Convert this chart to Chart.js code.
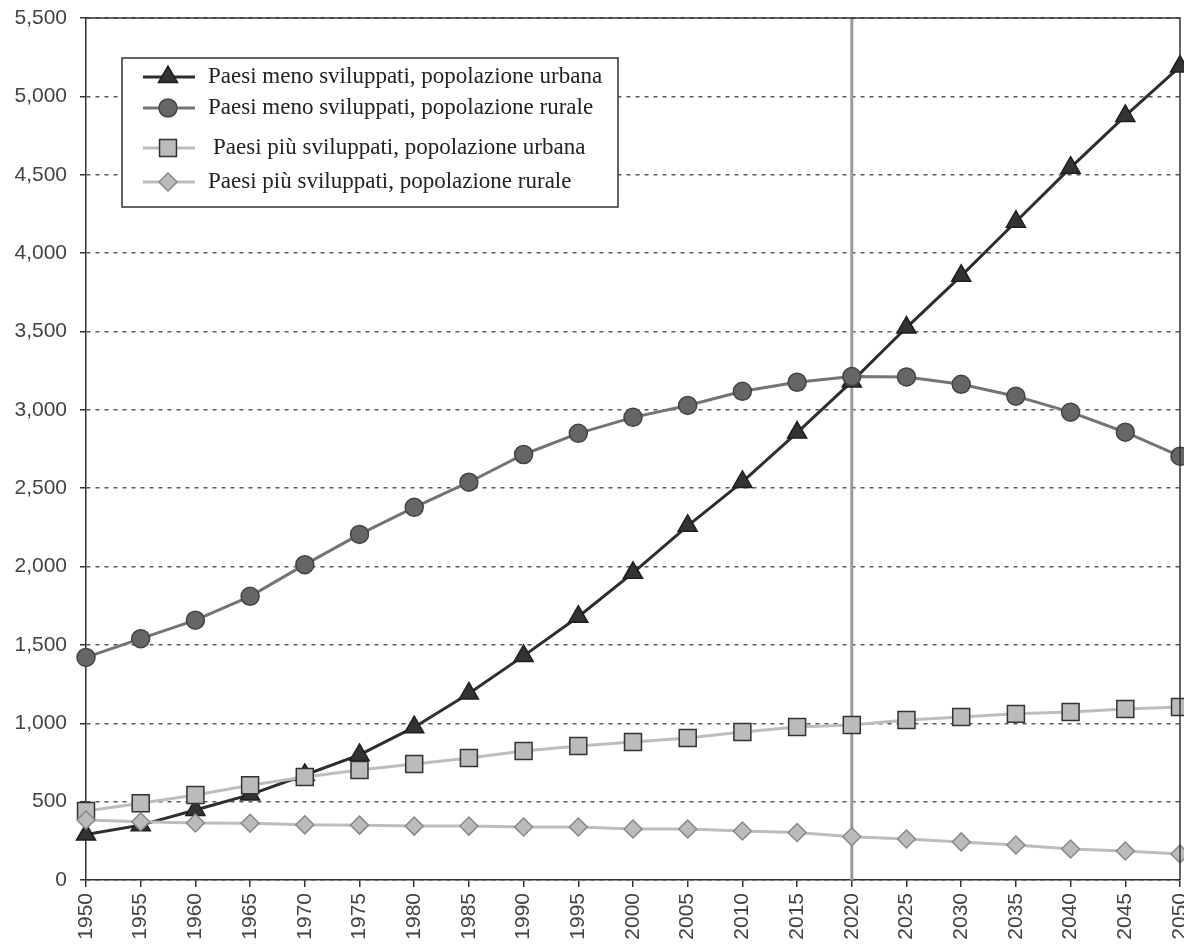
<!DOCTYPE html>
<html>
<head>
<meta charset="utf-8">
<script src="https://cdn.jsdelivr.net/npm/chart.js@4.4.1/dist/chart.umd.min.js"></script>
<style>
  html, body { margin: 0; padding: 0; background: #fff; }
  #wrap { width: 1184px; height: 952px; }
</style>
</head>
<body>
<div id="wrap"><canvas id="chart" width="1184" height="952"></canvas></div>
<script>
const YEARS = ['1950','1955','1960','1965','1970','1975','1980','1985','1990','1995','2000',
               '2005','2010','2015','2020','2025','2030','2035','2040','2045','2050'];

// millions of people
const LESS_URBAN = [290, 350, 447, 545, 670, 798, 975, 1190, 1430, 1680, 1960,
                    2260, 2540, 2855, 3180, 3525, 3855, 4200, 4545, 4875, 5190];
const LESS_RURAL = [1420, 1540, 1658, 1810, 2012, 2205, 2378, 2538, 2715, 2850, 2952,
                    3028, 3118, 3176, 3212, 3210, 3163, 3087, 2985, 2857, 2704];
const MORE_URBAN = [440, 490, 542, 604, 657, 702, 740, 778, 823, 855, 880,
                    906, 944, 976, 989, 1021, 1040, 1060, 1072, 1091, 1104];
const MORE_RURAL = [383, 372, 364, 362, 352, 350, 344, 344, 338, 338, 325,
                    325, 313, 303, 276, 262, 243, 223, 198, 185, 166];

const SERIES_NAMES = [
    'Paesi meno sviluppati, popolazione urbana',
    'Paesi meno sviluppati, popolazione rurale',
    'Paesi più sviluppati, popolazione urbana',
    'Paesi più sviluppati, popolazione rurale',
];

const Y_MIN = 0, Y_MAX = 5500, Y_STEP = 500;
const MARK_YEAR = '2020';

const TICK_FONT = { family: '"Liberation Sans", Arial, sans-serif', size: 21 };

function makeDataset(label, values, line, fill, border, style, radius, order) {
    return {
        label,
        data: values,
        borderColor: line,
        borderWidth: 3,
        pointStyle: style,
        pointRadius: radius,
        pointHoverRadius: radius,
        pointBackgroundColor: fill,
        pointBorderColor: border,
        pointBorderWidth: 1.5,
        tension: 0,
        fill: false,
        clip: false,
        order,
    };
}

const datasets = [
    makeDataset(SERIES_NAMES[0], LESS_URBAN, '#2e2e2e', '#333333', '#1e1e1e', 'triangle', 11, 4),
    makeDataset(SERIES_NAMES[1], LESS_RURAL, '#747474', '#666666', '#444444', 'circle',    9,  3),
    makeDataset(SERIES_NAMES[2], MORE_URBAN, '#bdbdbd', '#bbbbbb', '#333333', 'rect',     12, 2),
    makeDataset(SERIES_NAMES[3], MORE_RURAL, '#bdbdbd', '#bbbbbb', '#888888', 'rectRot',   9, 1),
];

// small marker painter for the boxed legend
function paintMarker(ctx, ds, x, y) {
    const r = ds.pointRadius;
    ctx.save();
    ctx.fillStyle = ds.pointBackgroundColor;
    ctx.strokeStyle = ds.pointBorderColor;
    ctx.lineWidth = ds.pointBorderWidth;
    ctx.beginPath();
    if (ds.pointStyle === 'circle') {
        ctx.arc(x, y, r, 0, Math.PI * 2);
    } else if (ds.pointStyle === 'triangle') {
        for (let k = 0; k < 3; k++) {
            const a = k * 2 * Math.PI / 3;
            const px = x + Math.sin(a) * r, py = y - Math.cos(a) * r;
            k ? ctx.lineTo(px, py) : ctx.moveTo(px, py);
        }
        ctx.closePath();
    } else if (ds.pointStyle === 'rect') {
        const s = r * Math.SQRT1_2;
        ctx.rect(x - s, y - s, 2 * s, 2 * s);
    } else {
        ctx.moveTo(x, y - r); ctx.lineTo(x + r, y); ctx.lineTo(x, y + r); ctx.lineTo(x - r, y);
        ctx.closePath();
    }
    ctx.fill();
    ctx.stroke();
    ctx.restore();
}

const frameAndMarker = {
    id: 'frameAndMarker',
    beforeDatasetsDraw(chart) {
        const { ctx, chartArea: a, scales: { x } } = chart;
        const px = x.getPixelForValue(YEARS.indexOf(MARK_YEAR));
        ctx.save();
        ctx.strokeStyle = '#9a9a9a';
        ctx.lineWidth = 3;
        ctx.beginPath();
        ctx.moveTo(px, a.top);
        ctx.lineTo(px, a.bottom);
        ctx.stroke();
        ctx.restore();
    },
    afterDraw(chart) {
        const { ctx, chartArea: a } = chart;
        ctx.save();
        ctx.strokeStyle = '#333';
        ctx.lineWidth = 1.5;
        ctx.beginPath();
        ctx.moveTo(a.left, a.top);
        ctx.lineTo(a.right, a.top);
        ctx.lineTo(a.right, a.bottom);
        ctx.stroke();

        // boxed legend, top-left inside the plot
        const box = { x: 122, y: 58, w: 496, h: 149 };
        const rowY = [77, 108, 148, 182];
        const textX = [208, 208, 213, 208];
        ctx.fillStyle = '#fff';
        ctx.fillRect(box.x, box.y, box.w, box.h);
        ctx.strokeRect(box.x, box.y, box.w, box.h);
        ctx.font = '23px "Liberation Serif", "Times New Roman", serif';
        ctx.textBaseline = 'middle';
        chart.data.datasets.forEach((ds, i) => {
            const y = rowY[i];
            ctx.strokeStyle = ds.borderColor;
            ctx.lineWidth = ds.borderWidth;
            ctx.beginPath();
            ctx.moveTo(143, y);
            ctx.lineTo(195, y);
            ctx.stroke();
            paintMarker(ctx, ds, 168, y);
            ctx.fillStyle = '#222';
            ctx.fillText(ds.label, textX[i], y);
        });
        ctx.restore();
    },
};

new Chart(document.getElementById('chart').getContext('2d'), {
    type: 'line',
    data: { labels: YEARS, datasets },
    options: {
        responsive: false,
        animation: false,
        events: [],
        layout: { autoPadding: false, padding: { left: 0, top: 18, right: 4, bottom: 0 } },
        plugins: {
            legend: { display: false },
            tooltip: { enabled: false },
        },
        scales: {
            x: {
                type: 'category',
                offset: false,
                grid: { drawOnChartArea: false, drawTicks: true, tickLength: 7, color: '#333', lineWidth: 1.5 },
                border: { color: '#333', width: 1.5 },
                ticks: {
                    autoSkip: false,
                    minRotation: 90,
                    maxRotation: 90,
                    padding: 6,
                    color: '#444',
                    font: TICK_FONT,
                },
                afterFit(s) { s.height = 72; s.paddingLeft = 0; s.paddingRight = 0; },
            },
            y: {
                min: Y_MIN,
                max: Y_MAX,
                grid: {
                    color: '#5a5a5a',
                    lineWidth: 1.5,
                    tickColor: '#333',
                    tickLength: 6,
                },
                border: { color: '#333', width: 1.5, dash: [4, 5] },
                ticks: {
                    stepSize: Y_STEP,
                    padding: 13,
                    color: '#444',
                    font: TICK_FONT,
                    callback: v => v.toLocaleString('en-US'),
                },
                afterFit(s) { s.width = 86; s.paddingTop = 0; s.paddingBottom = 0; },
            },
        },
    },
    plugins: [frameAndMarker],
});
</script>
</body>
</html>
